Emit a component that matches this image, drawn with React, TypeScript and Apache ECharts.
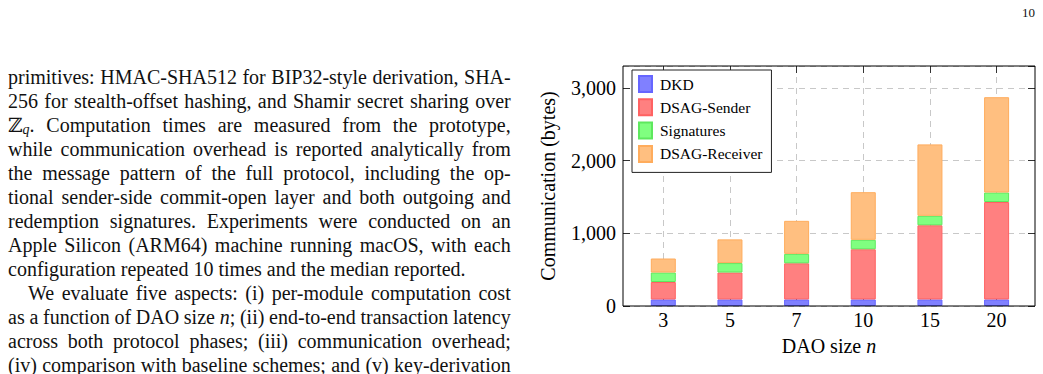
import React, { useEffect, useRef } from 'react';
import * as echarts from 'echarts';

// Communication cost per DAO size, split by protocol component (bytes)
const daoSizes = ['3', '5', '7', '10', '15', '20'];
const dkd = [90, 90, 90, 90, 90, 90];
const dsagSender = [240, 370, 497, 690, 1020, 1340];
const signatures = [130, 130, 130, 130, 130, 130];
const dsagReceiver = [193, 326, 454, 655, 982, 1311];

const seriesNames = ['DKD', 'DSAG-Sender', 'Signatures', 'DSAG-Receiver'];
const fillColors = ['#8080ff', '#ff8080', '#80ff80', '#ffbf80'];
const edgeColors = ['#6666ff', '#ff6262', '#5ee85e', '#ffac5c'];

const yMax = 3300;
const yStep = 1000;

// Body text column beside the figure; *x* = italic, _x_ = italic subscript
const bodyLines = [
  'primitives: HMAC-SHA512 for BIP32-style derivation, SHA-',
  '256 for stealth-offset hashing, and Shamir secret sharing over',
  'ℤ_q_. Computation times are measured from the prototype,',
  'while communication overhead is reported analytically from',
  'the message pattern of the full protocol, including the op-',
  'tional sender-side commit-open layer and both outgoing and',
  'redemption signatures. Experiments were conducted on an',
  'Apple Silicon (ARM64) machine running macOS, with each',
  'configuration repeated 10 times and the median reported.',
  'We evaluate five aspects: (i) per-module computation cost',
  'as a function of DAO size *n*; (ii) end-to-end transaction latency',
  'across both protocol phases; (iii) communication overhead;',
  '(iv) comparison with baseline schemes; and (v) key-derivation',
];
const justifiedLines = [true, true, true, true, true, true, true, true, false, true, true, true, true];
const indentedLines = [false, false, false, false, false, false, false, false, false, true, false, false, false];
const pageNumber = '10';

const SERIF = 'Liberation Serif, DejaVu Serif, serif';
const TEXT_LEFT = 8;
const TEXT_RIGHT = 510.7;
const FIRST_BASELINE = 83.7;
const LINE_STEP = 24;
const BODY_SIZE = 20;

type Seg = { text: string; size: number; italic: boolean; dy: number };

function parseWord(w: string): Seg[] {
  return w
    .split(/(\*[^*]+\*|_[^_]+_)/)
    .filter(Boolean)
    .map((p) => {
      if (p.startsWith('*')) return { text: p.slice(1, -1), size: BODY_SIZE, italic: true, dy: 0 };
      if (p.startsWith('_')) return { text: p.slice(1, -1), size: 14, italic: true, dy: 3 };
      return { text: p, size: BODY_SIZE, italic: false, dy: 0 };
    });
}

function buildBodyText(): any[] {
  const ctx = document.createElement('canvas').getContext('2d')!;
  const segWidth = (s: Seg) => {
    ctx.font = `${s.italic ? 'italic ' : ''}${s.size}px ${SERIF}`;
    return ctx.measureText(s.text).width;
  };
  ctx.font = `${BODY_SIZE}px ${SERIF}`;
  const spaceWidth = ctx.measureText(' ').width;
  const out: any[] = [];
  bodyLines.forEach((line, i) => {
    const baseline = FIRST_BASELINE + i * LINE_STEP;
    const left = TEXT_LEFT + (indentedLines[i] ? 20 : 0);
    const words = line.split(' ').map(parseWord);
    const widths = words.map((segs) => segs.reduce((a, s) => a + segWidth(s), 0));
    const total = widths.reduce((a, b) => a + b, 0);
    const gap =
      justifiedLines[i] && words.length > 1 ? (TEXT_RIGHT - left - total) / (words.length - 1) : spaceWidth;
    let x = left;
    words.forEach((segs, k) => {
      let sx = x;
      segs.forEach((s) => {
        out.push({
          type: 'text',
          x: sx,
          y: baseline - 0.3375 * s.size + s.dy,
          silent: true,
          style: {
            text: s.text,
            fontSize: s.size,
            fontStyle: s.italic ? 'italic' : 'normal',
            fontFamily: SERIF,
            fill: '#111',
            align: 'left',
            verticalAlign: 'middle',
          },
        });
        sx += segWidth(s);
      });
      x += widths[k] + gap;
    });
  });
  out.push({
    type: 'text',
    x: 1035,
    y: 12.5,
    silent: true,
    style: {
      text: pageNumber,
      fontSize: 13,
      fontFamily: SERIF,
      fill: '#111',
      align: 'right',
      verticalAlign: 'middle',
    },
  });
  return out;
}

const gridDash = { color: '#c8c8c8', width: 1, type: [6, 5] as number[] };

export default function App() {
  const ref = useRef<HTMLDivElement>(null);

  useEffect(() => {
    if (!ref.current) return;
    const chart = echarts.init(ref.current, null, { renderer: 'svg' });
    const values = [dkd, dsagSender, signatures, dsagReceiver];

    chart.setOption({
      animation: false,
      textStyle: { fontFamily: SERIF, color: '#000' },
      grid: [
        // frame of the plot area
        { left: 623, top: 66, width: 412, height: 240, show: true, borderColor: '#000', borderWidth: 1, backgroundColor: 'transparent', z: 5 },
        // bar area, categories placed on the points
        { left: 663.3, top: 66, width: 333.3, height: 240 },
      ],
      xAxis: [
        {
          gridIndex: 0,
          type: 'value',
          min: 0,
          max: 1,
          axisLine: { show: false },
          axisTick: { show: false },
          axisLabel: { show: false },
          splitLine: { show: false },
          name: '{r|DAO size }{i|n}',
          nameLocation: 'middle',
          nameGap: 29.5,
          nameTextStyle: {
            rich: {
              r: { fontSize: 20, fontFamily: SERIF, color: '#000' },
              i: { fontSize: 20, fontFamily: SERIF, fontStyle: 'italic', color: '#000' },
            },
          },
        },
        {
          gridIndex: 1,
          type: 'category',
          data: daoSizes,
          boundaryGap: false,
          axisLine: { show: false },
          axisTick: { show: true, inside: true, length: 7, interval: 0, lineStyle: { color: '#333' } },
          axisLabel: { interval: 0, fontSize: 20, fontFamily: SERIF, color: '#000', margin: 4 },
          splitLine: { show: true, interval: 0, lineStyle: gridDash },
        },
        {
          gridIndex: 1,
          type: 'category',
          position: 'top',
          data: daoSizes,
          boundaryGap: false,
          axisLine: { show: false },
          axisTick: { show: true, inside: true, length: 7, interval: 0, lineStyle: { color: '#333' } },
          axisLabel: { show: false },
          splitLine: { show: false },
        },
      ],
      yAxis: [
        {
          gridIndex: 0,
          type: 'value',
          min: 0,
          max: yMax,
          interval: yStep,
          axisLine: { show: false },
          axisTick: { show: true, inside: true, length: 7, lineStyle: { color: '#333' } },
          axisLabel: {
            fontSize: 20,
            fontFamily: SERIF,
            color: '#000',
            margin: 7,
            showMaxLabel: false,
            formatter: (v: number) => v.toLocaleString('en-US'),
          },
          splitLine: { show: true, lineStyle: gridDash },
          name: 'Communication (bytes)',
          nameLocation: 'middle',
          nameGap: 65,
          nameTextStyle: { fontSize: 20, fontFamily: SERIF, color: '#000' },
        },
        {
          gridIndex: 0,
          type: 'value',
          position: 'right',
          min: 0,
          max: yMax,
          interval: yStep,
          axisLine: { show: false },
          axisTick: { show: true, inside: true, length: 7, lineStyle: { color: '#333' } },
          axisLabel: { show: false },
          splitLine: { show: false },
        },
        {
          gridIndex: 1,
          type: 'value',
          min: 0,
          max: yMax,
          show: false,
        },
      ],
      legend: {
        orient: 'vertical',
        left: 632,
        top: 70,
        padding: [4.5, 9, 9, 6],
        itemWidth: 13,
        itemHeight: 16,
        itemGap: 4.3,
        icon: 'rect',
        backgroundColor: '#fff',
        borderColor: '#222',
        borderWidth: 1,
        textStyle: { fontSize: 15.5, lineHeight: 16, fontFamily: SERIF, color: '#000', padding: [3, 0, 0, 3] },
        data: seriesNames,
      },
      series: seriesNames.map((name, i) => ({
        name,
        type: 'bar',
        stack: 'total',
        xAxisIndex: 1,
        yAxisIndex: 2,
        barWidth: 25,
        data: values[i],
        itemStyle: { color: fillColors[i], borderColor: edgeColors[i], borderWidth: 1 },
      })),
      graphic: { elements: buildBodyText() },
    });

    return () => chart.dispose();
  }, []);

  return <div ref={ref} style={{ position: 'absolute', left: 0, top: 0, width: 1043, height: 374 }} />;
}
